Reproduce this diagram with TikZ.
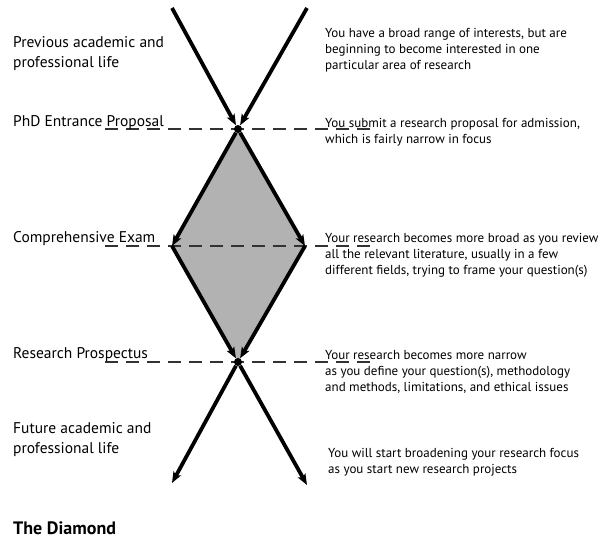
\documentclass[tikz,border=0pt]{standalone}
\usepackage{fontspec}
\setmainfont{PT Sans}
\usetikzlibrary{arrows.meta}
\definecolor{diamondfill}{RGB}{178,178,178}
\definecolor{guidegray}{RGB}{50,50,50}
\begin{document}
\begin{tikzpicture}[x=1pt,y=-1pt,
  flow/.style={line width=3.8pt, line cap=butt,
    -{Stealth[length=11pt,width=8.5pt,inset=2.5pt]}},
  guide/.style={line width=1.4pt, draw=guidegray, dash pattern=on 13pt off 8pt},
  junction/.style={circle, fill=black, inner sep=0pt, minimum size=8pt},
  stage/.style={anchor=base west, inner sep=0pt, align=left,
    font=\fontsize{15.5}{20}\selectfont},
  note/.style={anchor=base west, inner sep=0pt, align=left,
    font=\fontsize{13}{16}\selectfont},
  heading/.style={anchor=base west, inner sep=0pt,
    font=\bfseries\fontsize{18}{21}\selectfont},
]
\useasboundingbox[fill=white] (0,0) rectangle (601,538);

% key points of the diamond and its incoming / outgoing paths
\coordinate (inL) at (172,8);
\coordinate (inR) at (307,8);
\coordinate (apex) at (238,129);
\coordinate (west) at (172,246);
\coordinate (east) at (305,246);
\coordinate (base) at (238,362);
\coordinate (outL) at (172,483);
\coordinate (outR) at (307,485);

% dashed guide lines for the three milestones
\coordinate (g1a) at (105,129); \coordinate (g1b) at (372,129);
\coordinate (g2a) at (105,246); \coordinate (g2b) at (372,246);
\coordinate (g3a) at (105,362); \coordinate (g3b) at (372,362);

% shaded diamond
\fill[diamondfill] (apex) -- (west) -- (base) -- (east) -- cycle;

\draw[guide] (g1a) -- (g1b);
\draw[guide] (g2a) -- (g2b);
\draw[guide] (g3a) -- (g3b);

% arrows
\node[junction] (top) at (apex) {};
\node[junction] (bottom) at (base) {};
\draw[flow] (inL) -- (top);
\draw[flow] (inR) -- (top);
\draw[flow] (top) -- (west);
\draw[flow] (top) -- (east);
\draw[flow] (west) -- (bottom);
\draw[flow] (east) -- (bottom);
\draw[flow] (bottom) -- (outL);
\draw[flow] (bottom) -- (outR);

% stage labels (multi-line nodes are placed by the baseline of their last line)
\node[stage] (prev) at (13,67) {Previous academic and\\professional life};
\node[stage] (phd) at (13,126) {PhD Entrance Proposal};
\node[stage] (comp) at (13,242) {Comprehensive Exam};
\node[stage] (prosp) at (13,358) {Research Prospectus};
\node[stage] (future) at (13,453) {Future academic and\\professional life};
\node[heading] (title) at (13,534) {The Diamond};

% descriptions
\node[note] (d1) at (325,69) {You have a broad range of interests, but are\\beginning to become interested in one\\particular area of research};
\node[note] (d2) at (325,143) {You submit a research proposal for admission,\\which is fairly narrow in focus};
\node[note] (d3) at (325,274) {Your research becomes more broad as you review\\all the relevant literature, usually in a few\\different fields, trying to frame your question(s)};
\node[note] (d4) at (325,391) {Your research becomes more narrow\\as you define your question(s), methodology\\and methods, limitations, and ethical issues};
\node[note] (d5) at (328,473) {You will start broadening your research focus\\as you start new research projects};
\end{tikzpicture}
\end{document}
